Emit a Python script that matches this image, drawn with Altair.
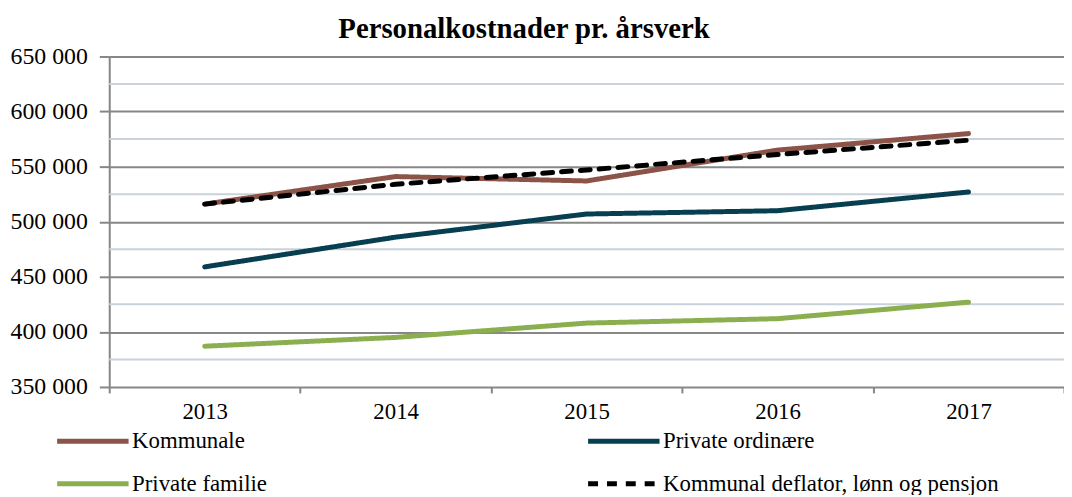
import altair as alt
import pandas as pd

years = ["2013", "2014", "2015", "2016", "2017"]
kommunale = [516000, 541000, 537000, 565000, 580000]
private_ordinaere = [459000, 486000, 507000, 510000, 527000]
private_familie = [387000, 395000, 408000, 412000, 427000]
deflator = [516000, 534000, 547000, 561000, 574000]

series_names = ["Kommunale", "Private ordinære", "Private familie",
                "Kommunal deflator, lønn og pensjon"]
series_colors = ["#8C5448", "#073F50", "#8BAF4F", "#000000"]
series_dash = [[1, 0], [1, 0], [1, 0], [10, 9]]

major_ticks = [350000, 400000, 450000, 500000, 550000, 600000, 650000]
minor_ticks = [375000, 425000, 475000, 525000, 575000, 625000]

rows = []
for name, vals in zip(series_names, [kommunale, private_ordinaere, private_familie, deflator]):
    for y, v in zip(years, vals):
        rows.append({"year": y, "value": v, "series": name})
df = pd.DataFrame(rows)
minor_df = pd.DataFrame({"value": minor_ticks})

FONT = "Liberation Serif"
FS = 23

yscale = alt.Scale(domain=[350000, 650000], nice=False, zero=False)
yaxis = alt.Axis(values=major_ticks, grid=True, gridColor="#878787", gridWidth=2,
                 domain=True, domainColor="#868686", domainWidth=2,
                 tickColor="#868686", tickWidth=2, tickSize=10,
                 labelFont=FONT, labelFontSize=24, labelColor="#000000",
                 labelPadding=12,
                 labelExpr="replace(format(datum.value, ','), ',', ' ')")

minor = alt.Chart(minor_df).mark_rule(color="#C9D2DB", strokeWidth=2).encode(
    y=alt.Y("value:Q", scale=yscale, title=None, axis=yaxis)
)

lines = alt.Chart(df).mark_line(strokeWidth=5, strokeCap="round", strokeJoin="round").encode(
    x=alt.X("year:N", sort=years, title=None,
            scale=alt.Scale(paddingInner=0, paddingOuter=0),
            axis=alt.Axis(labelAngle=0, tickBand="extent", domain=False,
                          ticks=True, tickSize=6, tickColor="#868686", tickWidth=2,
                          labelFont=FONT, labelFontSize=FS, labelColor="#000000",
                          labelPadding=8, grid=False)),
    y=alt.Y("value:Q", scale=yscale, title=None, axis=yaxis),
    color=alt.Color("series:N", sort=series_names,
                    scale=alt.Scale(domain=series_names, range=series_colors),
                    legend=alt.Legend(title=None, orient="none", legendX=-31, legendY=373,
                                      columns=2, columnPadding=312, rowPadding=16,
                                      symbolType="M-3,0H3", symbolSize=576,
                                      symbolStrokeWidth=5, labelFont=FONT,
                                      labelFontSize=FS, labelColor="#000000",
                                      labelLimit=500,
                                      labelOffset=25, direction="horizontal")),
    strokeDash=alt.StrokeDash("series:N", sort=series_names,
                              scale=alt.Scale(domain=series_names, range=series_dash),
                              legend=None),
    order=alt.Order("series:N"),
)

chart = alt.layer(minor, lines).properties(
    width=962, height=333,
    title=alt.TitleParams("Personalkostnader pr. årsverk", font=FONT, fontSize=29,
                          fontWeight="bold", color="#000000", anchor="middle",
                          dx=-63, offset=1),
    autosize=alt.AutoSizeParams(type="none"),
    padding={"left": 102, "top": 47, "right": 0, "bottom": 107},
).configure_view(stroke=None).configure(background="#ffffff", font=FONT).configure_axis(
    labelFont=FONT
).configure_legend(labelFont=FONT)

chart.save("out.html", embed_options={"renderer": "svg", "actions": False})
